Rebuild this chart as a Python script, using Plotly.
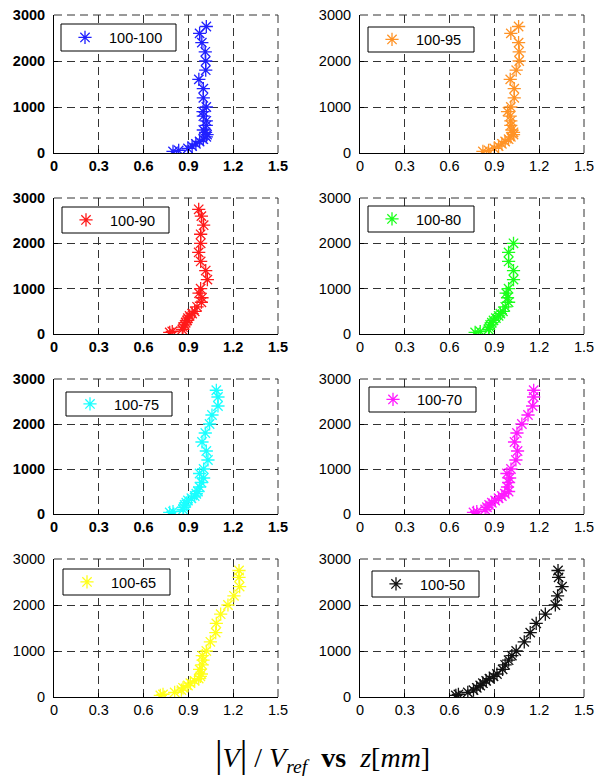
import plotly.graph_objects as go

# ---- data ----
z = [35, 55, 100, 150, 200, 250, 300, 350, 400, 450, 500, 600, 700, 800, 900,
     1000, 1200, 1400, 1600, 1800, 2000, 2200, 2400, 2600, 2750]
z_80 = z[:21]

v_100_100 = [0.797, 0.835, 0.897, 0.925, 0.950, 0.975, 1.000, 1.020, 1.025, 1.015, 1.000, 1.020, 1.020,
             1.000, 0.998, 1.020, 1.000, 1.000, 0.970, 1.016, 1.016, 1.013, 0.990, 0.975, 1.020]
v_100_95 = [0.823, 0.861, 0.899, 0.928, 0.950, 0.972, 0.995, 1.010, 1.028, 1.028, 1.017, 1.010, 1.010,
            1.006, 0.988, 1.010, 1.033, 1.033, 1.006, 1.046, 1.066, 1.066, 1.062, 1.010, 1.062]
v_100_90 = [0.775, 0.792, 0.859, 0.864, 0.875, 0.882, 0.891, 0.897, 0.908, 0.925, 0.942, 0.958, 0.987,
            0.991, 0.971, 0.982, 1.027, 1.016, 0.982, 0.969, 0.982, 0.982, 1.002, 0.987, 0.969]
v_100_80 = [0.771, 0.805, 0.861, 0.866, 0.872, 0.883, 0.894, 0.910, 0.928, 0.940, 0.957, 0.973, 0.995,
            0.988, 0.979, 0.995, 1.028, 1.028, 0.995, 0.995, 1.028]
v_100_75 = [0.775, 0.797, 0.864, 0.868, 0.875, 0.886, 0.897, 0.920, 0.942, 0.953, 0.964, 0.975, 0.987,
            1.002, 0.975, 1.002, 1.031, 1.020, 0.991, 1.013, 1.042, 1.058, 1.098, 1.098, 1.087]
v_100_70 = [0.760, 0.782, 0.838, 0.850, 0.865, 0.883, 0.905, 0.928, 0.950, 0.970, 0.995, 0.988, 0.995,
            1.002, 0.984, 1.011, 1.044, 1.055, 1.035, 1.051, 1.084, 1.125, 1.156, 1.163, 1.163]
v_100_65 = [0.712, 0.730, 0.808, 0.853, 0.864, 0.897, 0.913, 0.942, 0.969, 0.980, 0.987, 0.975, 0.993,
            0.998, 0.993, 1.020, 1.047, 1.083, 1.087, 1.116, 1.165, 1.205, 1.243, 1.239, 1.239]
v_100_50 = [0.642, 0.659, 0.722, 0.760, 0.782, 0.805, 0.823, 0.845, 0.867, 0.894, 0.917, 0.955, 0.972,
            0.995, 1.017, 1.046, 1.100, 1.140, 1.180, 1.241, 1.308, 1.323, 1.353, 1.330, 1.326]

labels = ["100-100", "100-95", "100-90", "100-80", "100-75", "100-70", "100-65", "100-50"]
series = [v_100_100, v_100_95, v_100_90, v_100_80, v_100_75, v_100_70, v_100_65, v_100_50]
zs = [z, z, z, z_80, z, z, z, z]
colors = ["#2020ff", "#ff9326", "#ff1a1a", "#1aff1a", "#1affff", "#ff1aff", "#ffff1a", "#111111"]

x_ticks = [0, 0.3, 0.6, 0.9, 1.2, 1.5]
x_ticktext = ["0", "0.3", "0.6", "0.9", "1.2", "1.5"]
y_ticks = [0, 1000, 2000, 3000]

# ---- layout geometry (pixels) ----
W, H = 610, 776
col_px = [(54, 278), (360, 584)]
row_px = [(15, 153), (198, 334), (379, 514), (559, 697)]
legend_box_px = [(61, 24, 176, 51), (368, 27, 474, 52), (62, 207, 169, 233), (368, 206, 474, 232),
                 (66, 392, 172, 416), (369, 387, 476, 412), (63, 569, 170, 595), (372, 571, 479, 597)]
bold_left = [True, False, True, False, True, False, False, False]
FS = 14.5
DASH = "8px,5px"

fig = go.Figure()
layout = dict(width=W, height=H, margin=dict(l=0, r=0, t=0, b=0, autoexpand=False),
              plot_bgcolor="white", paper_bgcolor="white", showlegend=True)
shapes = []

for i in range(8):
    r, c = divmod(i, 2)
    ax = "" if i == 0 else str(i + 1)
    xa, ya = "xaxis" + ax, "yaxis" + ax
    xr, yr = "x" + ax, "y" + ax
    lg = "legend" if i == 0 else "legend" + str(i + 1)
    x0, x1 = col_px[c]
    t0, t1 = row_px[r]
    fw = "bold" if bold_left[i] else "normal"
    tfont = dict(family="Liberation Sans, Arial", size=FS, color="black", weight=fw)
    common = dict(showline=True, linecolor="black", linewidth=1, ticks="inside", ticklen=4,
                  tickcolor="black", showgrid=True, gridcolor="#333333", griddash=DASH,
                  gridwidth=1, zeroline=False, tickfont=tfont, fixedrange=True, automargin=False)
    layout[xa] = dict(domain=[x0 / W, x1 / W], range=[0, 1.5], tickvals=x_ticks, ticktext=x_ticktext,
                      anchor=yr, ticklabelstandoff=0, **common)
    layout[ya] = dict(domain=[1 - t1 / H, 1 - t0 / H], range=[0, 3000], tickvals=y_ticks,
                      anchor=xr, ticklabelstandoff=5, **common)
    bl, bt, br, bb = legend_box_px[i]
    # legend frame (opaque white box with black border)
    shapes.append(dict(type="rect", xref="paper", yref="paper", layer="above",
                       x0=bl / W, x1=br / W, y0=1 - bb / H, y1=1 - bt / H,
                       fillcolor="white", line=dict(color="black", width=1)))
    cy = (bt + bb) / 2.0
    layout[lg] = dict(x=bl / W, y=1 - (cy - 16) / H, xanchor="left", yanchor="top",
                      xref="paper", yref="paper", bgcolor="rgba(0,0,0,0)", borderwidth=0,
                      font=dict(family="Liberation Sans, Arial", size=FS, color="black"),
                      itemwidth=38, tracegroupgap=0)
    # thin connecting line
    fig.add_trace(go.Scatter(x=series[i], y=zs[i], mode="lines", xaxis=xr, yaxis=yr,
                             line=dict(color=colors[i], width=0.6), showlegend=False, hoverinfo="skip"))
    fig.add_trace(go.Scatter(x=series[i], y=zs[i], mode="markers", name=labels[i], xaxis=xr, yaxis=yr,
                             legend=lg,
                             marker=dict(symbol="asterisk-open", size=11, color=colors[i],
                                         line=dict(color=colors[i], width=1.3))))
    # dashed top and right borders
    shapes.append(dict(type="line", xref=xr + " domain", yref=yr + " domain", x0=0, x1=1, y0=1, y1=1,
                       line=dict(color="#333333", width=1, dash=DASH)))
    shapes.append(dict(type="line", xref=xr + " domain", yref=yr + " domain", x0=1, x1=1, y0=0, y1=1,
                       line=dict(color="#333333", width=1, dash=DASH)))

layout["shapes"] = shapes
layout["annotations"] = [dict(
    x=322 / W, y=1 - 755 / H, xref="paper", yref="paper", xanchor="center", yanchor="middle",
    showarrow=False,
    text="<span style='font-size:38px'>|</span><i>V</i><span style='font-size:38px'>|</span> / "
         "<i>V</i><sub><i>ref</i></sub>  <b>vs</b>  <i>z</i>[<i>mm</i>]",
    font=dict(family="Liberation Serif, Times New Roman", size=28, color="black"))]

fig.update_layout(**layout)
fig.write_html("out.html", post_script="document.body.style.margin='0';document.body.style.padding='0';")
